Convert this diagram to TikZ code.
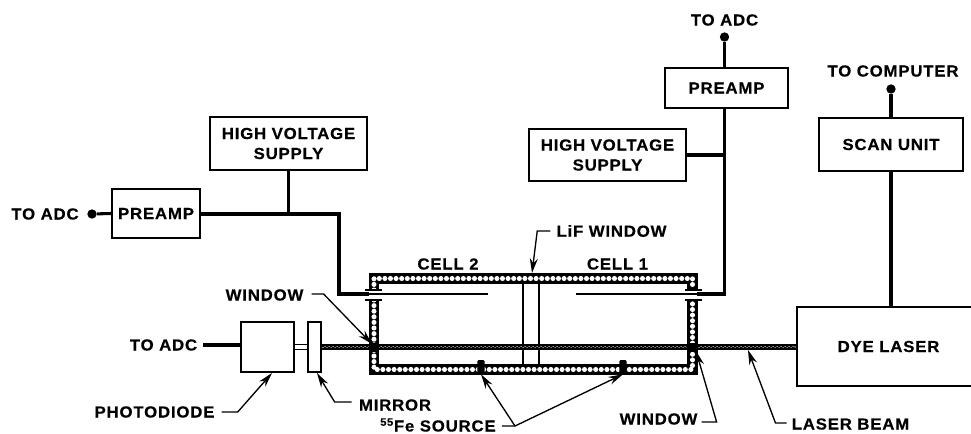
\documentclass[tikz,border=0pt]{standalone}
\usepackage{fontspec}
\setmainfont[FakeStretch=1.05,LetterSpace=5,BoldFeatures={FakeBold=0.4}]{Liberation Sans}
\usetikzlibrary{arrows.meta,positioning,calc,decorations.pathmorphing}

\begin{document}
\begin{tikzpicture}[
  x=0.75pt, y=-0.75pt,
  box/.style={draw=black,line width=1.3pt,fill=white,inner sep=0pt,align=center,
              font=\fontsize{12}{15}\selectfont\bfseries},
  lbl/.style={inner sep=0pt,align=center,font=\fontsize{12}{15}\selectfont\bfseries},
  wire/.style={line width=2.3pt,line join=miter},
  thin wire/.style={line width=1pt},
  lead/.style={line width=1pt,-{Stealth[length=11pt,width=6pt]}},
  wall/.style={line width=7.6pt,draw=black,line join=miter},
  wall dots/.style={line width=3.8pt,draw=white,line cap=round,dash pattern=on 0pt off 4.2pt},
  dot/.style={circle,fill=black,inner sep=0pt,minimum size=7pt},
  source/.style={fill=black,rounded corners=1pt,inner sep=0pt,minimum width=5.4pt,minimum height=10.5pt},
]
\useasboundingbox (0,0) rectangle (971,433);
\clip (0,0) rectangle (971,433);
\fill[white] (0,0) rectangle (971,433);

% left electronics
\node[box,minimum width=117.75pt,minimum height=39.75pt] (hvL) at (288.5,143.5) {HIGH VOLTAGE\\SUPPLY};
\node[box,minimum width=66pt,minimum height=36.75pt] (pampL) at (156,213.5) {PREAMP};
\node[dot] (dotL) at (92,214) {};
\node[lbl] (adcL) at (45,214) {TO ADC};

% right electronics
\node[box,minimum width=117.75pt,minimum height=39pt] (hvR) at (607.5,155) {HIGH VOLTAGE\\SUPPLY};
\node[box,minimum width=92.25pt,minimum height=30pt] (pampR) at (726.5,88) {PREAMP};
\node[dot] (dotR) at (724.5,37) {};
\node[lbl] (adcR) at (724.5,20) {TO ADC};
\node[box,minimum width=108pt,minimum height=39.75pt] (scan) at (891,144.5) {SCAN UNIT};
\node[dot] (dotC) at (891,89) {};
\node[lbl] (comp) at (893,71) {TO COMPUTER};
\node[box,minimum width=137.25pt,minimum height=59.25pt] (laser) at (888.5,346.5) {DYE LASER};

% photodiode end
\node[box,minimum width=39.75pt,minimum height=37.5pt] (diode) at (267.5,347) {};
\node[box,minimum width=9.75pt,minimum height=37.5pt] (mirror) at (314.5,347) {};
\node[lbl] (adcP) at (163.5,345) {TO ADC};

% cell walls
\coordinate (wireL) at (339,294);
\coordinate (wireR) at (724.5,294);
\draw[wall] (374,290) |- (692.5,278.5) -- (692.5,290);
\draw[wall] (374,300) |- (692.5,369.5) -- (692.5,300);
\draw[wall dots] (374,290) |- (692.5,278.5) -- (692.5,290);
\draw[wall dots] (374,300) |- (692.5,369.5) -- (692.5,300);
\foreach \xa/\xb in {365/382,685/702}{
  \draw[line width=1pt] (\xa,290) -- (\xb,290);
  \draw[line width=1pt] (\xa,300) -- (\xb,300);
}
% LiF window
\draw[line width=1.2pt] (523,283) -- (523,365);
\draw[line width=1.2pt] (539,283) -- (539,365);
\node[source] (srcA) at (481,367) {};
\node[source] (srcB) at (623,367) {};

% beam
\draw[line width=5.2pt] (mirror.east) -- (mirror.east -| laser.west);
\draw[line width=2pt,white] (mirror.east) -- (mirror.east -| laser.west);
\draw[line width=1pt,decorate,decoration={snake,amplitude=0.45pt,segment length=3pt}]
  (mirror.east) -- (mirror.east -| laser.west);
\draw[line width=1.2pt,double=white,double distance=2.6pt] (diode.east) -- (mirror.west);
\foreach \xa in {374,692.5}{
  \draw[line width=7.6pt] (\xa,342.5) -- (\xa,351.5);
}

% wiring
\draw[wire] (adcP.east) ++(6,0) -- (diode.west |- adcP.east);
\draw[wire] (dotL) -- (pampL.west);
\draw[wire] (pampL.east |- dotL) -| (wireL) -- (369,294);
\draw[thin wire] (369,294) -- (488,294);
\draw[wire] (hvL.south) -- (hvL.south |- dotL);
\draw[wire] (dotR) -- (dotR |- pampR.north);
\draw[wire] (dotR |- pampR.south) -- (wireR) -- (697,294);
\draw[thin wire] (697,294) -- (576,294);
\draw[wire] (hvR.east) -- (hvR.east -| wireR);
\draw[wire] (dotC) -- (scan.north);
\draw[wire] (scan.south) -- (scan.south |- laser.north);

% labels with leaders
\node[lbl] (lif) at (611.5,231) {LiF WINDOW};
\node[lbl] (cellB) at (448,264) {CELL 2};
\node[lbl] (cellA) at (617.5,264) {CELL 1};
\node[lbl] (winL) at (264.5,295) {WINDOW};
\node[lbl] (winR) at (658.5,419) {WINDOW};
\node[lbl] (pdl) at (154.5,412) {PHOTODIODE};
\node[lbl] (mirl) at (395,405) {MIRROR};
\node[lbl] (beaml) at (850.5,424) {LASER BEAM};
\node[lbl,anchor=base west] (fel) at (380,431.5) {\textsuperscript{55}Fe SOURCE};

\coordinate (fork) at (515,426);
\draw[lead] ($(lif.west)+(-6,0)$) -- ++(-13,0) -- (532,273);
\draw[lead] ($(winL.east)+(8,-1)$) -- ++(12,0) -- (372,344);
\draw[lead] ($(pdl.east)+(7,0)$) -- ++(16,0) -- (272,373);
\draw[lead] ($(mirl.west)+(-7,-3)$) -- ++(-17,0) -- (317,373);
\draw[lead] ($(winR.east)+(4,3)$) -- ++(15,0) -- (696,351);
\draw[lead] ($(beaml.west)+(-5,-1)$) -- ++(-11,0) -- (748,350);
\draw[line width=1pt] ($(fel.east)+(6,1)$) -- (fork);
\draw[lead] (fork) -- (srcA.south);
\draw[lead] (fork) -- (srcB.south);
\end{tikzpicture}
\end{document}
